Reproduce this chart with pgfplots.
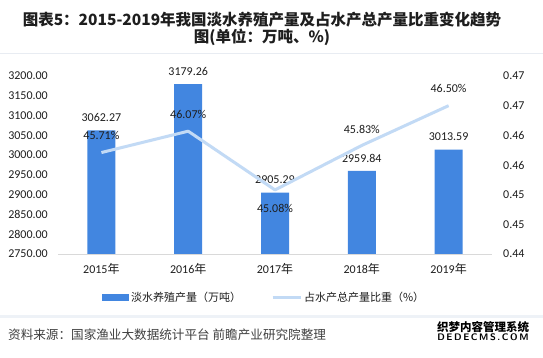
\documentclass[border=0pt]{standalone}
\usepackage{fontspec}
\setmainfont{Carlito}
\newfontfamily\cjk{Noto Sans CJK SC}
\usepackage{pgfplots}
\pgfplotsset{compat=1.18}
\usepackage{pgfplotstable}
\definecolor{barblue}{RGB}{66,134,224}
\definecolor{linecol}{RGB}{194,218,245}
\definecolor{txt}{RGB}{30,30,30}
\definecolor{sepline}{RGB}{232,236,242}
\definecolor{band}{RGB}{238,242,247}
\definecolor{axisgray}{RGB}{217,217,217}

\pgfplotstableread{
x prod
0 3062.27
1 3179.26
2 2905.29
3 2959.84
4 3013.59
}\prodtable
\pgfplotstableread{
x share pct dy
0 0.4571 45.71 17
1 0.4607 46.07 17
2 0.4508 45.08 -19
3 0.4583 45.83 16
4 0.4650 46.50 17
}\sharetable

\begin{document}
\begin{tikzpicture}[x=1pt,y=1pt]
\useasboundingbox (0,0) rectangle (543,357);
\fill[white] (0,0) rectangle (543,357);
\draw[sepline, line width=1pt] (0,303) -- (543,303);
\fill[band] (0,39) rectangle (543,42);
\node[text=txt, font=\cjk\bfseries\fontsize{15.5}{17}\selectfont, inner sep=0pt] at (262,337) {图表5：2015-2019年我国淡水养殖产量及占水产总产量比重变化趋势};
\node[text=txt, font=\cjk\bfseries\fontsize{15.5}{17}\selectfont, inner sep=0pt] at (262,320) {图(单位：万吨、\%)};
\node[text={rgb,255:red,64;green,64;blue,64}, font=\cjk\fontsize{12.6}{14}\selectfont, anchor=west, inner sep=0pt] at (8,22) {资料来源：国家渔业大数据统计平台 前瞻产业研究院整理};
\node[text=black, font=\cjk\bfseries\fontsize{11.5}{11.5}\selectfont, inner sep=0pt, anchor=south] at (483,24.5) {织梦内容管理系统};
\node[text=black, font=\sffamily\bfseries\fontsize{9.5}{9.5}\selectfont, inner sep=0pt, anchor=north] at (483,23.5) {D\,E\,D\,E\,C\,M\,S\,.\,C\,O\,M};

\begin{axis}[
  at={(58pt,103pt)}, anchor=south west,
  width=434pt, height=178pt, scale only axis,
  xmin=-0.5, xmax=4.5, ymin=2750, ymax=3200,
  ytick={2750,2800,...,3200},
  xtick={0,1,2,3,4},
  xticklabels={{2015{\cjk 年}},{2016{\cjk 年}},{2017{\cjk 年}},{2018{\cjk 年}},{2019{\cjk 年}}},
  axis line style={draw=none}, major tick length=0,
  tick label style={font=\fontsize{12}{14}\selectfont, text=txt},
  yticklabel style={inner sep=0pt, xshift=-10pt},
  xticklabel style={inner sep=0pt, yshift=-9pt},
  /pgf/number format/.cd, fixed, zerofill, precision=2, 1000 sep={}, assume math mode=true,
  /pgfplots/.cd,
  ybar, bar width=28pt,
  clip mode=individual,
  legend style={at={(0.475,-0.247)}, anchor=center, draw=none, fill=none,
    legend columns=2, font=\cjk\fontsize{11}{13}\selectfont, text=txt,
    /tikz/every even column/.append style={column sep=28pt}},
]
\addplot[fill=barblue, draw=none,
  nodes near coords,
  every node near coord/.append style={anchor=center, yshift=13pt, font=\fontsize{12}{14}\selectfont, text=txt},
  legend image code/.code={\fill[barblue] (0pt,-3.5pt) rectangle (27pt,3.5pt);}
] table[x=x, y=prod] {\prodtable};
\addlegendentry{淡水养殖产量（万吨）}
\addlegendimage{legend image code/.code={\draw[linecol, line width=3pt] (0pt,0pt) -- (28pt,0pt);}}
\addlegendentry{占水产总产量比重（\%）}
\draw[axisgray, line width=1pt] (rel axis cs:0,0) -- (rel axis cs:1,0);
\end{axis}

\begin{axis}[
  at={(58pt,103pt)}, anchor=south west,
  width=434pt, height=178pt, scale only axis,
  xmin=-0.5, xmax=4.5, ymin=0.44, ymax=0.47,
  axis y line*=right, axis x line=none,
  ytick={0.44,0.445,0.45,0.455,0.46,0.465,0.47},
  yticklabels={0.44,0.45,0.45,0.46,0.46,0.47,0.47},
  axis line style={draw=none}, major tick length=0,
  tick label style={font=\fontsize{12}{14}\selectfont, text=txt},
  yticklabel style={inner sep=0pt, xshift=11pt},
  /pgf/number format/.cd, fixed, zerofill, precision=2, assume math mode=true,
  /pgfplots/.cd,
  clip=false,
]
\addplot[linecol, line width=3pt, mark=none, line join=round,
  nodes near coords={\pgfmathprintnumber{\pgfplotspointmeta}\%},
  point meta=explicit,
  visualization depends on={\thisrow{dy}\as\labeldy},
  every node near coord/.append style={anchor=center, yshift=\labeldy pt, font=\fontsize{12}{14}\selectfont, text=txt}
] table[x=x, y=share, meta=pct] {\sharetable};
\end{axis}
\end{tikzpicture}
\end{document}
